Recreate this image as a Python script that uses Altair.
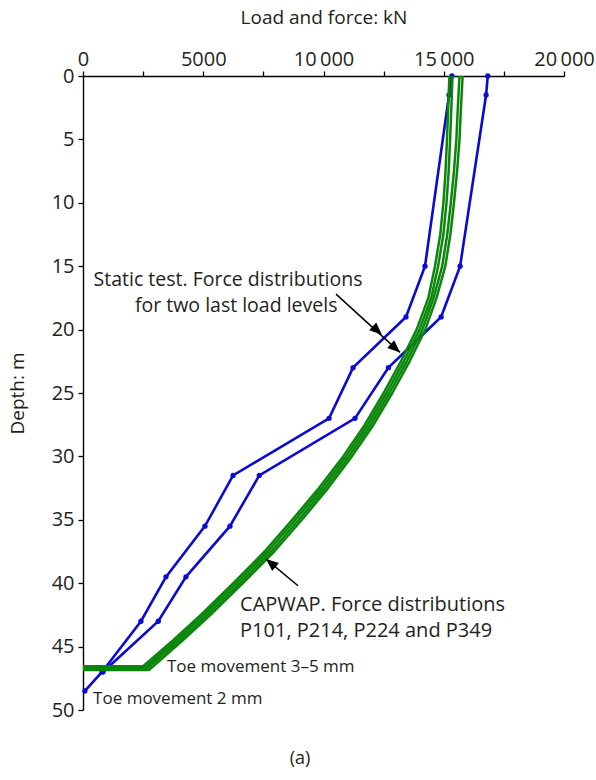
import altair as alt
import pandas as pd

FONT = "Open Sans"
TEXT = "#231f20"
BLUE = "#0a0ad2"
GREEN = "#0a870a"

# Static load test: force distributions for the two last load levels (kN vs depth m)
static_depth_a = [0, 1.5, 15, 19, 23, 27, 31.5, 35.5, 39.5, 43, 47, 48.5]
static_force_a = [15340, 15220, 14220, 13430, 11230, 10230, 6240, 5070, 3450, 2410, 790, 80]
static_depth_b = [0, 1.5, 15, 19, 23, 27, 31.5, 35.5, 39.5, 43, 47]
static_force_b = [16830, 16760, 15680, 14890, 12700, 11310, 7330, 6110, 4280, 3130, 830]

# CAPWAP force distributions: shaft points, then toe corner and toe level at zero
capwap_shaft_depth = [0, 2.5, 5, 7.5, 10, 12.5, 15, 17.5, 20, 22.5, 25,
                      27.5, 30, 32.5, 35, 37.5, 40, 42.5, 44.5]
capwap_piles = ["P101", "P214", "P224", "P349"]
capwap_toe_depth = [46.55, 46.65, 46.72, 46.85]
capwap_force = {
    "P101": [15235, 15185, 15135, 15075, 14985, 14855, 14635, 14360, 13870, 13220, 12500,
             11720, 10820, 9810, 8700, 7550, 6250, 4900, 3750, 2500, 0],
    "P214": [15365, 15315, 15265, 15205, 15115, 14985, 14765, 14480, 13990, 13340, 12620,
             11840, 10940, 9935, 8830, 7680, 6380, 5030, 3880, 2580, 0],
    "P224": [15655, 15585, 15525, 15425, 15295, 15145, 14935, 14580, 14110, 13460, 12740,
             11960, 11060, 10065, 8970, 7820, 6520, 5170, 4020, 2660, 0],
    "P349": [15785, 15715, 15655, 15555, 15425, 15275, 15065, 14700, 14230, 13580, 12860,
             12080, 11180, 10190, 9100, 7950, 6650, 5300, 4150, 2740, 0],
}

static_rows = []
for name, depths, forces in [("A", static_depth_a, static_force_a),
                             ("B", static_depth_b, static_force_b)]:
    for i, (d, f) in enumerate(zip(depths, forces)):
        static_rows.append({"series": name, "idx": i, "depth": d, "force": f})
static_df = pd.DataFrame(static_rows)

capwap_rows = []
for pile, toe in zip(capwap_piles, capwap_toe_depth):
    depths = capwap_shaft_depth + [toe, toe]
    for i, (d, f) in enumerate(zip(depths, capwap_force[pile])):
        capwap_rows.append({"pile": pile, "idx": i, "depth": d, "force": f})
capwap_df = pd.DataFrame(capwap_rows)

x_scale = alt.Scale(domain=[0, 20000], nice=False, zero=False)
y_scale = alt.Scale(domain=[0, 50], reverse=True, nice=False, zero=False)

x_axis = alt.Axis(
    orient="top",
    values=[i * 2500 for i in range(9)],
    labelExpr="datum.value % 5000 == 0 ? (datum.value >= 10000 ? format(datum.value / 1000, 'd') + '\u2009000' : format(datum.value, 'd')) : ''",
    title="Load and force: kN",
    titleX=240.5,
    titleY=-59,
    titleBaseline="middle",
    labelPadding=2,
    labelFlush=False,
    labelOverlap=False,
    grid=False,
)
y_axis = alt.Axis(
    values=[i * 2.5 for i in range(21)],
    labelExpr="datum.value % 5 == 0 ? format(datum.value, 'd') : ''",
    title="Depth: m",
    titleX=-66,
    titleY=317,
    titleAngle=270,
    titleAlign="center",
    titleBaseline="middle",
    labelPadding=4,
    labelFlush=False,
    labelOverlap=False,
    grid=False,
)

base_x = alt.X("force:Q", scale=x_scale, axis=x_axis)
base_y = alt.Y("depth:Q", scale=y_scale, axis=y_axis)

static_lines = alt.Chart(static_df).mark_line(color=BLUE, strokeWidth=2.6).encode(
    x=base_x, y=base_y, detail="series:N", order="idx:Q"
)
static_points = alt.Chart(static_df).mark_circle(color=BLUE, size=28, opacity=1).encode(
    x="force:Q", y="depth:Q"
)
capwap_lines = alt.Chart(capwap_df).mark_line(
    color=GREEN, strokeWidth=2.5, strokeJoin="round"
).encode(x="force:Q", y="depth:Q", detail="pile:N", order="idx:Q")

# Annotation text
def label(rows, align, size):
    df = pd.DataFrame(rows, columns=["force", "depth", "text"])
    return alt.Chart(df).mark_text(
        align=align, baseline="middle", font=FONT, fontSize=size, color=TEXT
    ).encode(x="force:Q", y="depth:Q", text="text:N")

static_text = label([
    (6030, 16.1, "Static test. Force distributions"),
    (6370, 18.15, "for two last load levels"),
], "center", 19.5)
capwap_text = label([
    (6530, 41.72, "CAPWAP. Force distributions"),
    (6530, 43.77, "P101, P214, P224 and P349"),
], "left", 20)
toe_text = label([
    (3490, 46.61, "Toe movement 3\u20135 mm"),
    (420, 49.13, "Toe movement 2 mm"),
], "left", 17)

# Leader arrows
arrow_lines = pd.DataFrame({
    "force": [10520, 7610], "depth": [17.2, 38.1],
    "force2": [13180, 8940], "depth2": [21.8, 40.2],
})
arrow_rules = alt.Chart(arrow_lines).mark_rule(color="black", strokeWidth=1.5).encode(
    x="force:Q", y="depth:Q", x2="force2:Q", y2="depth2:Q"
)
arrow_heads = pd.DataFrame({
    "force": [12430, 13180, 7610],
    "depth": [20.4, 21.8, 38.1],
    "angle": [132, 132, 310],
})
heads = alt.Chart(arrow_heads).mark_point(
    shape="M0,0 L-0.42,1 L0.42,1 Z", filled=True, color="black", size=620, opacity=1
).encode(x="force:Q", y="depth:Q", angle=alt.Angle("angle:Q", scale=None))

caption = alt.Chart(pd.DataFrame({"t": ["(a)"]})).mark_text(
    font=FONT, fontSize=18, color=TEXT, align="center", baseline="middle"
).encode(x=alt.value(217), y=alt.value(683), text="t:N")

chart = alt.layer(
    static_lines, static_points, capwap_lines, arrow_rules, heads,
    static_text, capwap_text, toe_text, caption
).properties(
    width=481,
    height=634,
    autosize=alt.AutoSizeParams(type="none"),
    padding={"left": 83, "top": 76, "right": 32, "bottom": 70},
).configure_view(stroke=None).configure_axis(
    labelFont=FONT, labelFontSize=20, labelColor=TEXT,
    titleFont=FONT, titleFontSize=19, titleFontWeight="normal", titleColor=TEXT,
    domainColor="black", domainWidth=1.4, tickColor="black", tickWidth=1.3, tickSize=5,
)

chart.save("out.html", embed_options={"renderer": "svg", "actions": False})
